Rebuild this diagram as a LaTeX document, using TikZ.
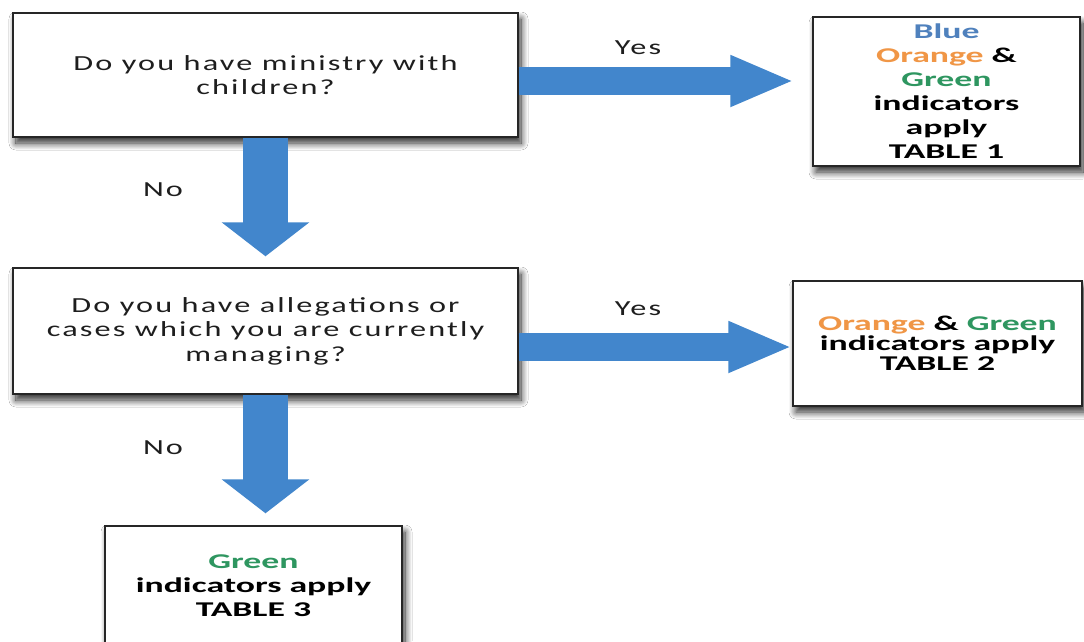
\documentclass[tikz,border=0pt]{standalone}
\usepackage{fontspec}
\setmainfont{Carlito}
\newfontfamily\qfont{Carlito}[FakeStretch=1.5,LetterSpace=10]
\newfontfamily\bfont{Carlito}[FakeStretch=1.7]
\usetikzlibrary{shadows.blur,arrows.meta,calc}
\definecolor{arrowblue}{RGB}{66,134,204}
\definecolor{tblue}{RGB}{79,129,189}
\definecolor{torange}{RGB}{240,150,70}
\definecolor{tgreen}{RGB}{46,150,96}
\definecolor{qtextcol}{RGB}{30,30,30}
\begin{document}
\begin{tikzpicture}[x=1pt,y=-1pt,
  box/.style={draw=black!85, line width=1.4pt, fill=white, inner sep=0pt,
     blur shadow={shadow xshift=3pt, shadow yshift=-6pt, shadow blur radius=7pt, shadow blur steps=12, shadow opacity=85}},
  qtext/.style={font=\qfont\fontsize{21.5}{24.5}\selectfont, text=qtextcol, align=center},
  rtext/.style={font=\bfont\bfseries\fontsize{21}{24}\selectfont, text=black, align=center},
  fatarrow/.style={draw=arrowblue, line width=45pt, -{Triangle[length=34pt,width=86pt]}},
  thinarrow/.style={draw=arrowblue, line width=28pt, -{Triangle[length=64pt,width=47pt]}},
  lbl/.style={font=\qfont\fontsize{21.5}{24}\selectfont, text=qtextcol}
]
\useasboundingbox (0,0) rectangle (1084,641);
\fill[white] (0,0) rectangle (1084,641);

\node[box, qtext, minimum width=505pt, minimum height=124pt] (q1) at (265.5,75)
  {Do you have ministry with\\children?};
\node[box, qtext, minimum width=505pt, minimum height=126pt] (q2) at (265.5,331)
  {Do you have allegations or\\cases which you are currently\\managing?};
\node[box, rtext, minimum width=267pt, minimum height=149pt] (t1) at (946.5,91.5)
  {{\color{tblue}Blue}\\{\color{torange}Orange} \&\\{\color{tgreen}Green}\\indicators\\apply\\TABLE 1};
\node[box, rtext, font=\bfont\bfseries\fontsize{21}{20}\selectfont, minimum width=289pt, minimum height=125pt] (t2) at (937.5,343.5)
  {{\color{torange}Orange} \& {\color{tgreen}Green}\\indicators apply\\TABLE 2};
\node[box, rtext, minimum width=297pt, minimum height=120pt] (t3) at (253.5,586)
  {{\color{tgreen}Green}\\indicators apply\\TABLE 3};

\coordinate (d1e) at ($(q1.south |- q2.north)+(0,-11)$);
\coordinate (d2e) at ($(q2.south |- t3.north)+(0,-12)$);
\coordinate (r1s) at ($(q1.east)+(0,6)$);
\coordinate (r1e) at ($(t1.west)+(-18,-10.5)$);
\coordinate (r2s) at ($(q2.east)+(0,16)$);
\coordinate (r2e) at ($(t2.west)+(0,3.5)$);

\draw[fatarrow] (q1.south) -- (d1e);
\draw[fatarrow] (q2.south) -- (d2e);
\draw[thinarrow] (r1s) -- (r1e);
\draw[thinarrow] (r2s) -- (r2e);

\node[lbl] (yes1) at (638,48) {Yes};
\node[lbl] (yes2) at (638,309) {Yes};
\node[lbl] (no1) at (163,190) {No};
\node[lbl] (no2) at (163,448) {No};
\end{tikzpicture}
\end{document}
